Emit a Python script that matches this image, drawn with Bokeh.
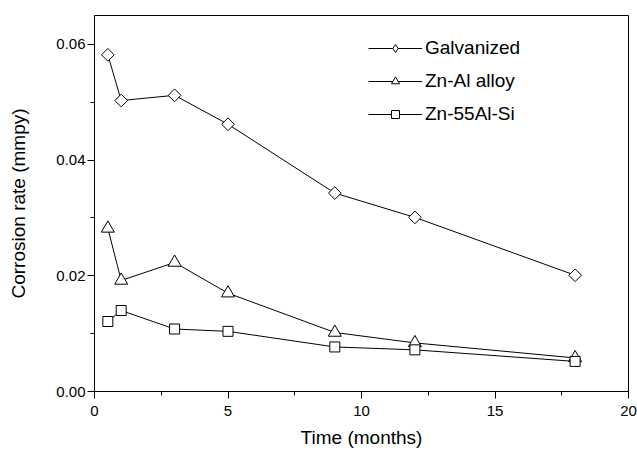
import math
from bokeh.plotting import figure
from bokeh.models import Range1d, FixedTicker, PrintfTickFormatter, Legend, LegendItem
from bokeh.embed import file_html
from bokeh.resources import INLINE

# Data
months = [0.5, 1, 3, 5, 9, 12, 18]
galvanized = [0.0582, 0.0503, 0.0512, 0.0462, 0.0343, 0.0301, 0.0201]
zn_al = [0.0282, 0.0192, 0.0223, 0.0170, 0.0102, 0.0084, 0.0058]
zn_55al_si = [0.0121, 0.0140, 0.0108, 0.0104, 0.0077, 0.0072, 0.0052]

x_ticks = [0, 5, 10, 15, 20]
x_minor = [2.5, 7.5, 12.5, 17.5]
y_ticks = [0.0, 0.02, 0.04, 0.06]
y_minor = [0.01, 0.03, 0.05]

FONT = "'Liberation Sans'"

p = figure(frame_width=534, frame_height=376,
           min_border_left=94, min_border_right=9, min_border_top=15, min_border_bottom=65,
           x_range=Range1d(0, 20), y_range=Range1d(0, 0.065),
           output_backend="svg", toolbar_location=None)

p.grid.visible = False
p.outline_line_color = "black"
p.outline_line_width = 1
p.background_fill_color = "white"
p.border_fill_color = "white"

p.xaxis.ticker = FixedTicker(ticks=x_ticks, minor_ticks=x_minor)
p.yaxis.ticker = FixedTicker(ticks=y_ticks, minor_ticks=y_minor)
p.yaxis.formatter = PrintfTickFormatter(format="%.2f")
p.xaxis.formatter = PrintfTickFormatter(format="%d")

p.xaxis.axis_label = "Time (months)"
p.yaxis.axis_label = "Corrosion rate (mmpy)"

for ax in (p.xaxis, p.yaxis):
    ax.axis_line_color = "black"
    ax.axis_line_width = 1
    ax.major_tick_line_color = "black"
    ax.minor_tick_line_color = "black"
    ax.major_tick_in = 0
    ax.major_tick_out = 7
    ax.minor_tick_in = 0
    ax.minor_tick_out = 4
    ax.major_label_text_font = FONT
    ax.major_label_text_font_size = "15px"
    ax.major_label_text_color = "black"
    ax.axis_label_text_font = FONT
    ax.axis_label_text_font_size = "19px"
    ax.axis_label_text_font_style = "normal"
    ax.axis_label_text_color = "black"

p.yaxis.major_label_standoff = 2
p.yaxis.axis_label_standoff = 24
p.xaxis.major_label_standoff = 7
p.xaxis.axis_label_standoff = 8

names = ["Galvanized", "Zn-Al alloy", "Zn-55Al-Si"]
values = [galvanized, zn_al, zn_55al_si]
plot_markers = [dict(marker="square", size=9, angle=math.pi / 4),
                dict(marker="triangle", size=13),
                dict(marker="square", size=10)]
legend_markers = ["diamond", "triangle", "square"]

items = []
for name, ys, mk, lm in zip(names, values, plot_markers, legend_markers):
    p.line(months, ys, line_color="black", line_width=1)
    p.scatter(months, ys, line_color="black", line_width=1, fill_color="white", **mk)
    # legend-only renderers (no visible data)
    ll = p.line([float("nan")], [float("nan")], line_color="black", line_width=1)
    ls = p.scatter([float("nan")], [float("nan")], marker=lm, line_color="black",
                   line_width=1, fill_color="white")
    items.append(LegendItem(label=name, renderers=[ll, ls]))

legend = Legend(items=items, location=(274, 266),
                padding=0, margin=0, border_line_alpha=0, background_fill_alpha=0,
                glyph_width=54, glyph_height=20, label_height=20, spacing=11,
                label_standoff=3, label_text_font=FONT, label_text_font_size="19px",
                label_text_color="black")
p.add_layout(legend)

open("out.html", "w").write(file_html(p, INLINE))
